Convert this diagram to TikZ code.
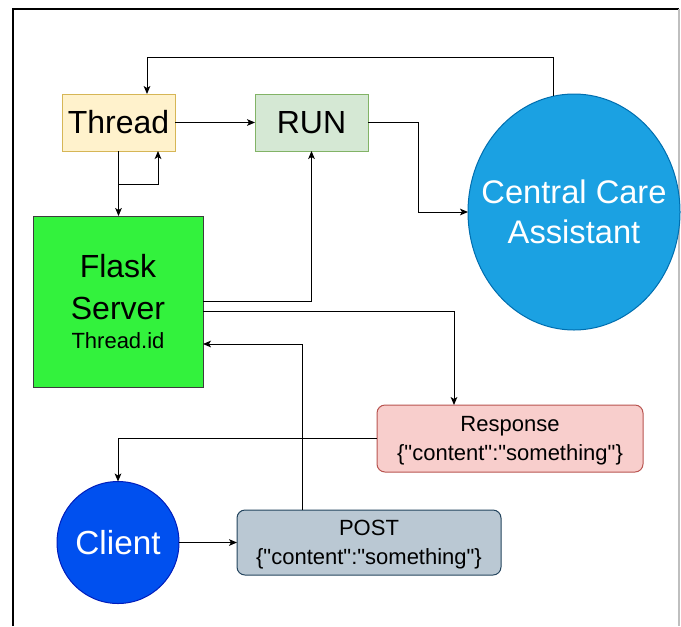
\documentclass[tikz,border=0pt]{standalone}
\usepackage{fontspec}
\setmainfont{Liberation Sans}
% same face without the TeX quote mapping, so " stays straight
\newfontfamily\jsonfont{Liberation Sans}
\usetikzlibrary{shapes.geometric,arrows.meta,calc}

\definecolor{threadfill}{HTML}{FFF2CC}
\definecolor{threaddraw}{HTML}{D6B656}
\definecolor{runfill}{HTML}{D5E8D4}
\definecolor{rundraw}{HTML}{82B366}
\definecolor{flaskfill}{HTML}{33F23D}
\definecolor{flaskdraw}{HTML}{3C3C3C}
\definecolor{respfill}{HTML}{F8CECC}
\definecolor{respdraw}{HTML}{B85450}
\definecolor{postfill}{HTML}{BAC8D3}
\definecolor{postdraw}{HTML}{23445D}
\definecolor{clientfill}{HTML}{0050EF}
\definecolor{clientdraw}{HTML}{001DBC}
\definecolor{ccafill}{HTML}{1BA1E2}
\definecolor{ccadraw}{HTML}{006EAF}

% JSON payload line with straight quotes
\newcommand\payload{{\jsonfont\{"content":"something"\}}}

\tikzset{
  box/.style={rectangle, inner sep=0pt, outer sep=0pt, line width=0.75pt, align=center},
  bigtext/.style={font=\fontsize{24}{31.5}\selectfont},
  smalltext/.style={font=\fontsize{16.5}{21.5}\selectfont},
  roundbox/.style={box, rounded corners=6pt, smalltext, text depth=0pt},
  arr/.style={draw=black, line width=0.75pt, -{Stealth[length=6pt,width=5pt,inset=1.5pt]}},
}

\begin{document}
\begin{tikzpicture}[x=0.75pt,y=-0.75pt]
  \useasboundingbox (0,0) rectangle (681,626);

  % page frame
  \draw[black, line width=0.8pt] (13,626) -- (13,9) -- (679,9);
  \draw[black!25, line width=0.8pt] (679,9) -- (679,626);

  % nodes
  \node[box, bigtext, fill=threadfill, draw=threaddraw,
        minimum width=84.75pt, minimum height=42.75pt] (thread) at (118.5,122.5) {Thread};
  \node[box, bigtext, fill=runfill, draw=rundraw,
        minimum width=84.75pt, minimum height=42.75pt] (run) at (311.5,122.5) {RUN};
  \node[ellipse, inner sep=0pt, outer sep=0pt, line width=0.75pt, align=center,
        font=\fontsize{24.5}{30}\selectfont, text=white,
        fill=ccafill, draw=ccadraw,
        minimum width=159pt, minimum height=177pt] (cca) at (574,212)
        {\makebox[0pt]{Central Care}\\\makebox[0pt]{Assistant}};
  \node[box, bigtext, fill=flaskfill, draw=flaskdraw, text depth=0pt,
        minimum width=127.5pt, minimum height=128.25pt] (flask) at (118,301.5)
        {Flask\\Server\\[-10pt]{\fontsize{16.5}{21}\selectfont Thread.id}};
  \node[roundbox, fill=respfill, draw=respdraw,
        minimum width=199.5pt, minimum height=50.25pt] (response) at (510,438.5)
        {Response\\\payload};
  \node[circle, inner sep=0pt, outer sep=0pt, line width=0.75pt,
        font=\fontsize{25}{30}\selectfont, text=white,
        fill=clientfill, draw=clientdraw, minimum size=91.5pt] (client) at (118,542.5) {Client};
  \node[roundbox, fill=postfill, draw=postdraw,
        minimum width=198pt, minimum height=48.75pt] (post) at (369,542.5)
        {POST\\\payload};

  % bend points
  \coordinate (topbend) at (147,57);
  \coordinate (loopL) at (118.5,184);
  \coordinate (loopR) at (158,184);
  \coordinate (runbend) at (418,122.5);

  % connectors
  \draw[arr] (cca.100) |- (topbend) -- (topbend |- thread.north);
  \draw[arr] (thread) -- (run);
  \draw[arr] (thread.south) -- (thread.south |- flask.north);
  \draw[arr] (loopL) -- (loopR) -- (loopR |- thread.south);
  \draw[arr] (run.east) -- (runbend) |- (cca.west);
  \draw[arr] (flask.east) -| (run.south);
  \draw[arr] ($(flask.east)+(0,9.5)$) -| ($(response.north)+(-56,0)$);
  \draw[arr] (response.west) -| (client.north);
  \draw[arr] (client) -- (post);
  \draw[arr] ($(post.north)+(-67,0)$) |- ($(flask.east)+(0,42.5)$);
\end{tikzpicture}
\end{document}
